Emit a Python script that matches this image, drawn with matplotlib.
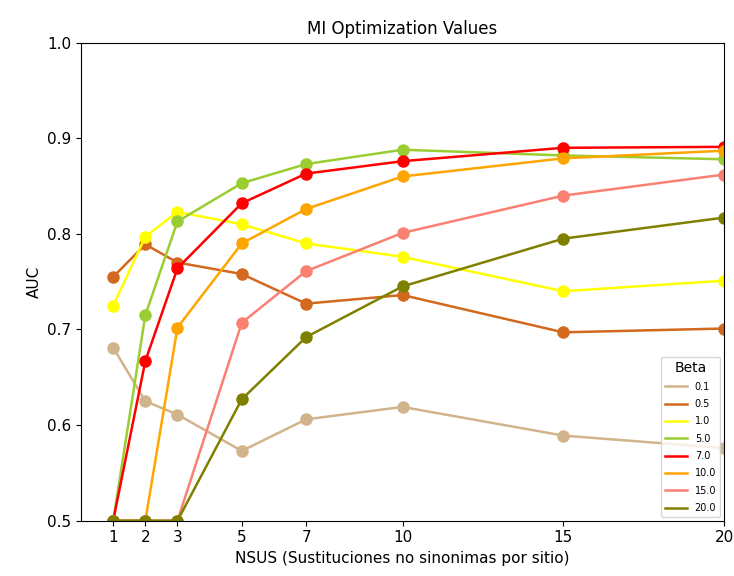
import matplotlib
matplotlib.use("Agg")
from matplotlib import pyplot as plt

nsus = [1, 2, 3, 5, 7, 10, 15, 20]
betas = ["0.1", "0.5", "1.0", "5.0", "7.0", "10.0", "15.0", "20.0"]
colores = ["tan", "chocolate", "yellow", "yellowgreen", "red", "orange", "salmon", "olive"]

auc_01 = [0.681, 0.625, 0.611, 0.573, 0.606, 0.619, 0.589, 0.576]
auc_05 = [0.755, 0.789, 0.770, 0.758, 0.727, 0.736, 0.697, 0.701]
auc_1 = [0.725, 0.797, 0.823, 0.810, 0.790, 0.776, 0.740, 0.751]
auc_5 = [0.5, 0.715, 0.813, 0.853, 0.873, 0.888, 0.882, 0.878]
auc_7 = [0.5, 0.667, 0.764, 0.832, 0.863, 0.876, 0.890, 0.891]
auc_10 = [0.5, 0.5, 0.702, 0.790, 0.826, 0.860, 0.879, 0.887]
auc_15 = [0.5, 0.5, 0.5, 0.707, 0.761, 0.801, 0.840, 0.862]
auc_20 = [0.5, 0.5, 0.5, 0.627, 0.692, 0.745, 0.795, 0.817]
series = [auc_01, auc_05, auc_1, auc_5, auc_7, auc_10, auc_15, auc_20]

fig = plt.figure(figsize=(7.34, 5.76), dpi=100)
ax = fig.add_axes([0.1104, 0.096, 0.876, 0.83])
for b, c, s in zip(betas, colores, series):
    ax.plot(nsus, s, color=c, marker="o", markersize=8, linewidth=1.8, label=b)

ax.set_xlim(0, 20)
ax.set_ylim(0.5, 1.0)
ax.set_xticks(nsus)
ax.tick_params(labelsize=11)
ax.set_xlabel("NSUS (Sustituciones no sinonimas por sitio)", fontsize=11)
ax.set_ylabel("AUC", fontsize=11)
ax.set_title("MI Optimization Values", fontsize=12)

# leyenda solo con lineas, sin marcadores
leg = ax.legend(title="Beta", loc="lower right", fontsize=7, title_fontsize=10,
                labelspacing=0.75, handlelength=2.3, borderaxespad=0.4)
for h in leg.legend_handles:
    h.set_marker("None")
plt.savefig("out.png")
